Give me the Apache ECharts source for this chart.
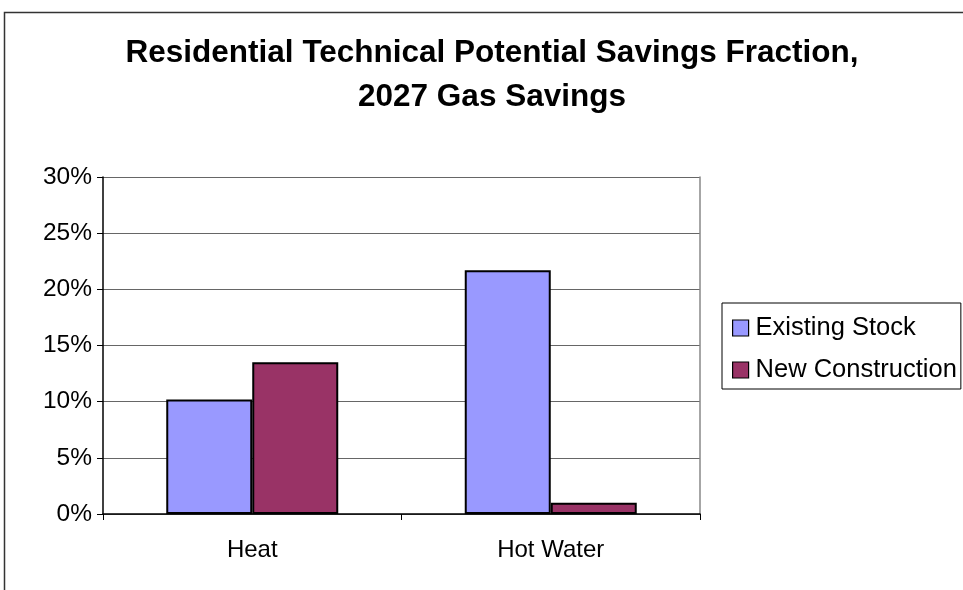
<!DOCTYPE html>
<html><head><meta charset="utf-8">
<script src="https://cdn.jsdelivr.net/npm/echarts@6/dist/echarts.min.js"></script>
<style>html,body{margin:0;padding:0;background:#fff}#c{width:963px;height:590px}</style>
</head><body><div id="c"></div>
<script>
const categories = ["Heat", "Hot Water"];
const existingStock = [10.2, 21.7];
const newConstruction = [13.5, 1.0];
const seriesNames = ["Existing Stock", "New Construction"];
const yTicks = [0, 5, 10, 15, 20, 25, 30];

const chart = echarts.init(document.getElementById('c'), null, {renderer: 'canvas'});
const font = 'Liberation Sans, Arial, sans-serif';
chart.setOption({
  animation: false,
  backgroundColor: '#fff',
  title: {
    text: 'Residential Technical Potential Savings Fraction,\n2027 Gas Savings',
    left: 492, top: 32, textAlign: 'center', padding: 0,
    textStyle: {fontFamily: font, fontWeight: 'bold', fontSize: 31.5, lineHeight: 43.5, color: '#000'}
  },
  graphic: [{type: 'rect', shape: {x: 4.5, y: 12.5, width: 1200, height: 1200}, style: {fill: 'none', stroke: '#333', lineWidth: 1.5}, silent: true, z: -1}],
  legend: {
    orient: 'vertical', left: 722, top: 303,
    data: seriesNames,
    itemWidth: 16, itemHeight: 16, itemGap: 16,
    padding: [12, 4, 6, 10],
    borderColor: '#000', borderWidth: 1,
    textStyle: {fontFamily: font, fontSize: 25.5, lineHeight: 26, color: '#000', padding: [0, 0, 0, 2]},
    itemStyle: {borderColor: '#000', borderWidth: 1.2},
    icon: 'rect'
  },
  grid: {left: 103, right: 263, top: 177, bottom: 76},
  xAxis: {
    type: 'category', data: categories,
    axisLine: {lineStyle: {color: '#000', width: 1.5}},
    axisTick: {show: true, length: 6, lineStyle: {color: '#000'}},
    axisLabel: {fontFamily: font, fontSize: 24, color: '#000', margin: 24}
  },
  yAxis: [{
    type: 'value', min: 0, max: 30, interval: 5,
    axisLine: {show: true, lineStyle: {color: '#000', width: 1.5}},
    axisTick: {show: true, length: 6, lineStyle: {color: '#000'}},
    splitLine: {lineStyle: {color: '#666', width: 1.2}},
    axisLabel: {fontFamily: font, fontSize: 24.5, color: '#000', margin: 11, formatter: v => yTicks.includes(v) ? v + '%' : ''}
  }, {
    type: 'value', min: 0, max: 30, interval: 5, position: 'right',
    axisLine: {show: true, lineStyle: {color: '#888', width: 1.5}},
    axisTick: {show: false}, axisLabel: {show: false}, splitLine: {show: false}
  }],
  series: [{
    name: seriesNames[0], type: 'bar', data: existingStock,
    barWidth: 86, barGap: '0%',
    itemStyle: {color: '#9999FF', borderColor: '#000', borderWidth: 2}
  }, {
    name: seriesNames[1], type: 'bar', data: newConstruction,
    barWidth: 86, barGap: '0%',
    itemStyle: {color: '#993366', borderColor: '#000', borderWidth: 2}
  }]
});
</script></body></html>
